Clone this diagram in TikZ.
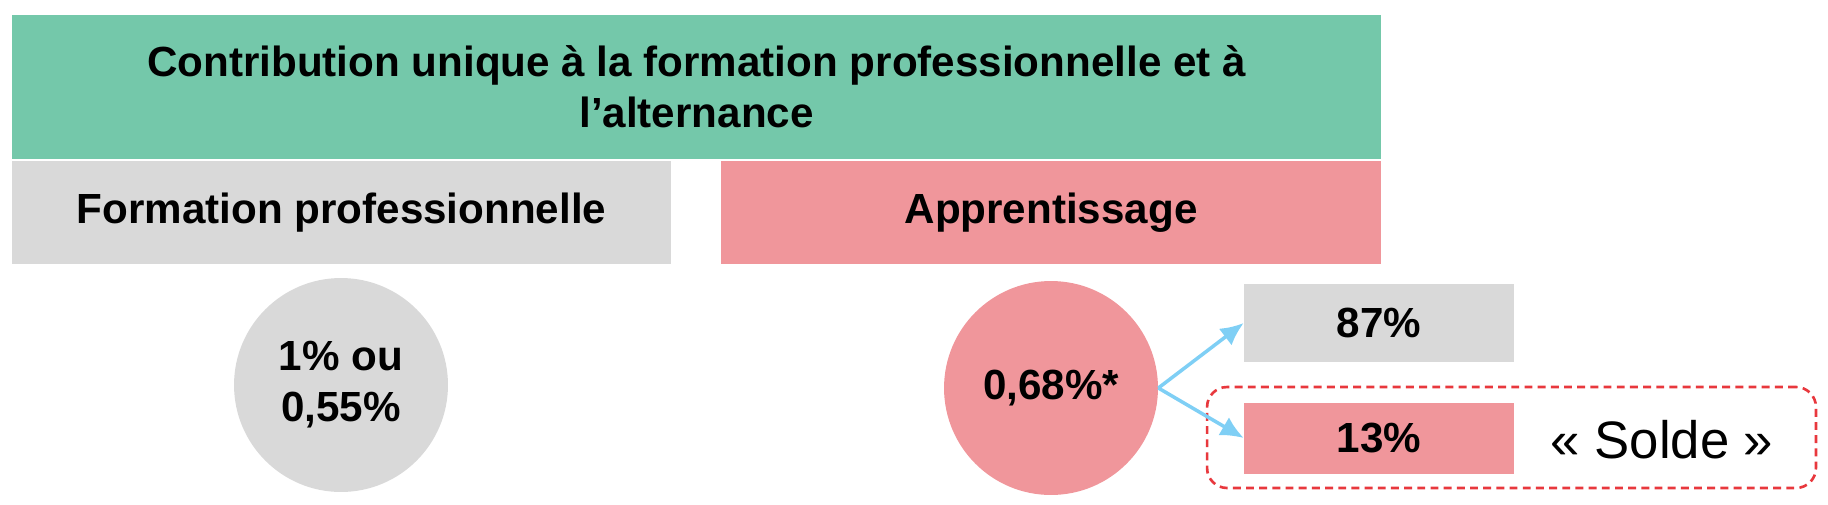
\documentclass[tikz,border=0pt]{standalone}
\usepackage{fontspec}
\setmainfont{Liberation Sans}
\usetikzlibrary{shapes, arrows.meta}
\definecolor{headgreen}{RGB}{116,200,170}
\definecolor{softpink}{RGB}{240,150,155}
\definecolor{softgray}{RGB}{217,217,217}
\definecolor{arrowblue}{RGB}{127,207,245}
\definecolor{dashred}{RGB}{232,56,61}
\tikzstyle{arrow} = [line width=2pt,-{Latex[length=4.6mm,width=4.2mm]},arrowblue]
\tikzstyle{bar} = [inner sep=0pt, font=\fontsize{24}{29}\selectfont\bfseries, align=center]
\tikzstyle{disc} = [circle, inner sep=0pt, minimum size=4.28cm, font=\fontsize{24}{29}\selectfont\bfseries, align=center]

\begin{document}
\begin{tikzpicture}[x=0.02cm,y=-0.02cm]

                    \useasboundingbox (0,0) rectangle (1828,504);

                    % Header
                    \node[bar, fill=headgreen, minimum width=27.38cm, minimum height=2.88cm] (contrib) at (696.5,87)
                        {Contribution unique à la formation professionnelle et à\\l’alternance};

                    % Two branches
                    \node[bar, fill=softgray, minimum width=13.18cm, minimum height=2.06cm] (formpro) at (341.5,212.5) {Formation professionnelle};
                    \node[bar, fill=softpink, minimum width=13.2cm, minimum height=2.06cm] (apprent) at (1051,212.5) {Apprentissage};

                    % Rates
                    \node[disc, fill=softgray] (ratefp) at (341,385) {1\% ou\\0,55\%};
                    \node[disc, fill=softpink] (rateap) at (1051,388) {0,68\%*};

                    % Split of the apprenticeship rate
                    \node[draw=dashred, line width=1.5pt, dash pattern=on 4.5pt off 3pt, rounded corners=0.4cm,
                          minimum width=12.18cm, minimum height=2.02cm] (soldebox) at (1511.5,437.5) {};
                    \node[bar, fill=softgray, minimum width=5.4cm, minimum height=1.56cm] (part87) at (1379,323) {87\%};
                    \node[bar, fill=softpink, minimum width=5.4cm, minimum height=1.42cm] (part13) at (1379,438) {13\%};
                    \node[font=\fontsize{30}{36}\selectfont] (solde) at (1662,440) {« Solde »};

                    \draw[arrow] (rateap.east) -- (part87.west);
                    \draw[arrow] (rateap.east) -- (part13.west);

                \end{tikzpicture}
\end{document}
